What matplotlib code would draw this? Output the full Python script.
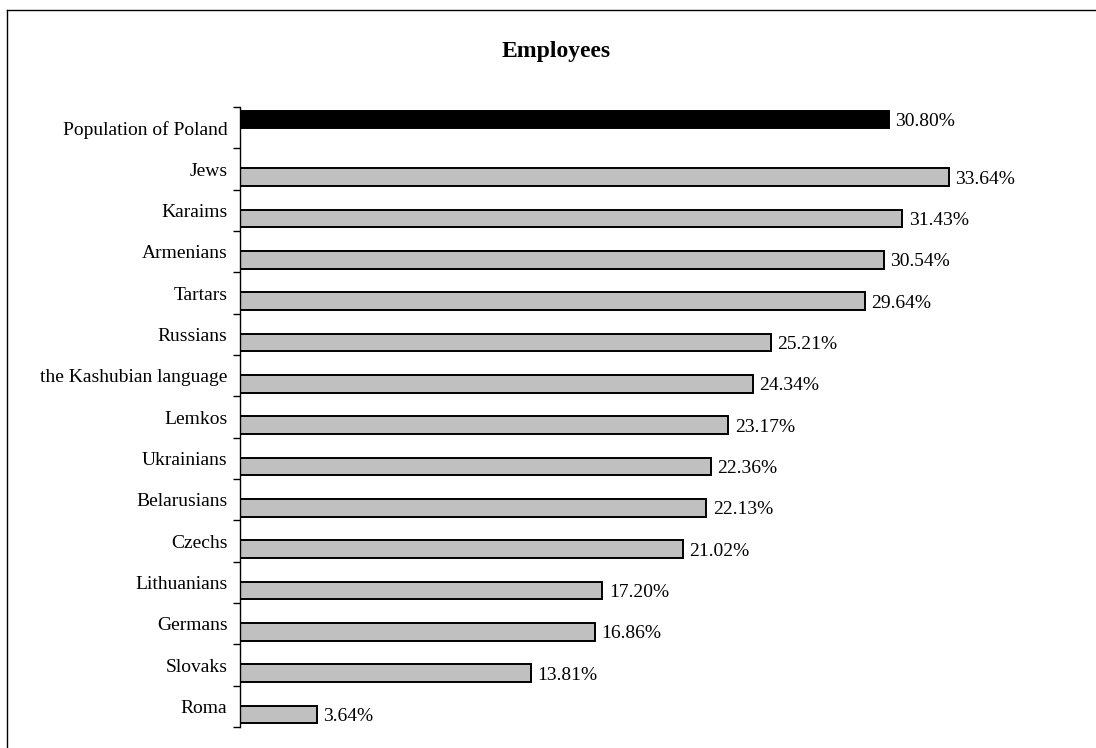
import matplotlib.pyplot as plt
from matplotlib.lines import Line2D

# Dados
grupos = ["Population of Poland", "Jews", "Karaims", "Armenians", "Tartars",
          "Russians", "the Kashubian language", "Lemkos", "Ukrainians",
          "Belarusians", "Czechs", "Lithuanians", "Germans", "Slovaks", "Roma"]
valores = [30.80, 33.64, 31.43, 30.54, 29.64, 25.21, 24.34, 23.17, 22.36,
           22.13, 21.02, 17.20, 16.86, 13.81, 3.64]
rotulos = ["30.80%", "33.64%", "31.43%", "30.54%", "29.64%", "25.21%", "24.34%",
           "23.17%", "22.36%", "22.13%", "21.02%", "17.20%", "16.86%", "13.81%",
           "3.64%"]

plt.rcParams['font.family'] = ['Liberation Serif', 'DejaVu Serif']

fig = plt.figure(figsize=(10.96, 7.48), dpi=100)
ax = fig.add_axes([240 / 1096, 1 - 727 / 748, 843 / 1096, 620 / 748])

n = len(grupos)
pos = list(range(n))
# primeira barra acima do centro, restantes abaixo (estilo Excel com 2 séries)
y_bar = [p - 0.2 if i == 0 else p + 0.2 for i, p in enumerate(pos)]
cores = ["black" if i == 0 else "#c0c0c0" for i in range(n)]

ax.barh(y_bar, valores, height=0.43, color=cores, edgecolor="black", linewidth=1.4)

for yb, v, r in zip(y_bar, valores, rotulos):
    ax.text(v + 0.3, yb, r, va="center_baseline", ha="left", fontsize=14)

ax.set_xlim(0, 40)
ax.set_ylim(n - 0.5, -0.5)
ax.set_yticks(pos)
ax.set_yticklabels(grupos, fontsize=14)
ax.tick_params(axis="y", which="major", length=0, pad=9)
ax.set_yticks([p - 0.5 for p in range(n + 1)], minor=True)
ax.tick_params(axis="y", which="minor", length=5, width=1, direction="out")
ax.set_xticks([])
for s in ["top", "right", "bottom"]:
    ax.spines[s].set_visible(False)
ax.spines["left"].set_linewidth(1)

fig.text(556 / 1096, 1 - 52 / 748, "Employees", ha="center", va="center",
         fontsize=17, fontweight="bold")

# moldura
fig.add_artist(Line2D([7 / 1096, 7 / 1096], [0, 1 - 10 / 748], color="black", lw=1,
                      transform=fig.transFigure))
fig.add_artist(Line2D([7 / 1096, 1], [1 - 10 / 748, 1 - 10 / 748], color="black", lw=1,
                      transform=fig.transFigure))

fig.savefig("out.png", dpi=100)
